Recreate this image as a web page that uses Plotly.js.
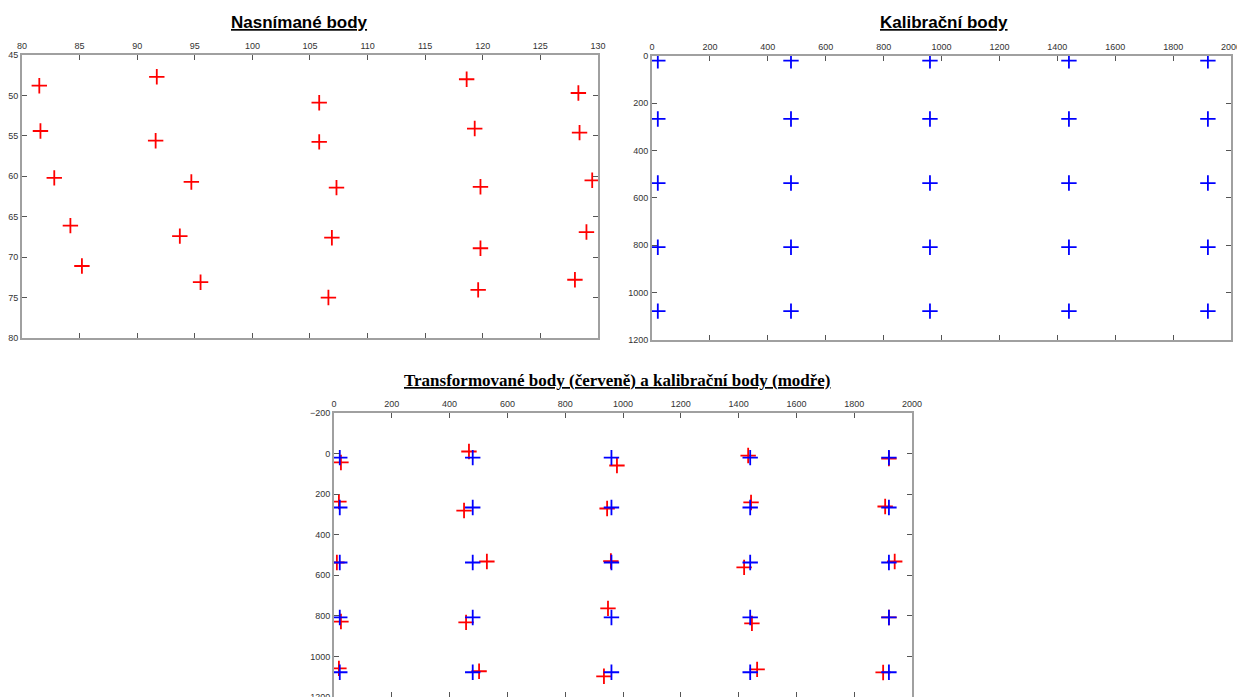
<!DOCTYPE html>
<html>
<head>
<meta charset="utf-8">
<script src="https://cdn.plot.ly/plotly-3.0.1.min.js"></script>
<style>html,body{margin:0;padding:0;background:#fff;}#chart{width:1237px;height:697px;}</style>
</head>
<body>
<div id="chart"></div>
<script>
// Nasnímané body (measured points)
const measuredX = [81.5, 81.6, 82.8, 84.2, 85.2, 91.7, 91.6, 94.7, 93.7, 95.5, 105.8, 105.8, 107.3, 106.9, 106.6, 118.6, 119.3, 119.8, 119.8, 119.6, 128.3, 128.4, 129.5, 129.0, 128.0];
const measuredY = [48.8, 54.4, 60.2, 66.1, 71.1, 47.7, 55.6, 60.7, 67.4, 73.1, 50.9, 55.75, 61.4, 67.6, 75.0, 48.0, 54.1, 61.3, 68.9, 74.05, 49.7, 54.6, 60.5, 66.9, 72.8];

// Kalibrační body (calibration points)
const calibCols = [20, 480, 960, 1440, 1920];
const calibRows = [20, 266, 537, 808, 1078];

// Transformované body (transformed points), row by row
const transX = [24, 467, 979, 1433, 1920,
                17, 450, 945, 1443, 1907,
                10, 529, 958, 1419, 1940,
                24, 457, 948, 1446, 1920,
                17, 502, 934, 1464, 1900];
const transY = [44, -10, 59, 10, 25,
                237, 281, 271, 241, 261,
                537, 532, 530, 561, 532,
                828, 832, 763, 837, 808,
                1059, 1073, 1098, 1064, 1079];

const calibX = [], calibY = [];
calibRows.forEach(r => calibCols.forEach(c => { calibX.push(c); calibY.push(r); }));

const redMarker = {symbol: 'cross-thin', size: 11, color: '#ff0000', line: {color: '#ff0000', width: 1.8}};
const blueMarker = {symbol: 'cross-thin', size: 11, color: '#0000ff', line: {color: '#0000ff', width: 1.8}};

const traces = [
  {x: measuredX, y: measuredY, mode: 'markers', type: 'scatter', marker: redMarker, xaxis: 'x', yaxis: 'y'},
  {x: calibX, y: calibY, mode: 'markers', type: 'scatter', marker: blueMarker, xaxis: 'x2', yaxis: 'y2'},
  {x: transX, y: transY, mode: 'markers', type: 'scatter', marker: redMarker, xaxis: 'x3', yaxis: 'y3'},
  {x: calibX, y: calibY, mode: 'markers', type: 'scatter', marker: blueMarker, xaxis: 'x3', yaxis: 'y3'}
];

const tickFont = {family: 'Liberation Sans, Arial, sans-serif', size: 9, color: '#333'};
function xax(domain, range, dtick, anchor) {
  return {domain: domain, range: range, dtick: dtick, tick0: 0, side: 'top', anchor: anchor,
    showgrid: false, zeroline: false, showline: true, linecolor: '#a0a0a0', linewidth: 2,
    mirror: 'ticks', ticks: 'inside', ticklen: 5, tickcolor: '#555', tickfont: tickFont,
    ticklabeloverflow: 'allow'};
}
function yax(domain, range, dtick, anchor) {
  return {domain: domain, range: range, dtick: dtick, anchor: anchor,
    showgrid: false, zeroline: false, showline: true, linecolor: '#a0a0a0', linewidth: 2,
    mirror: 'ticks', ticks: 'inside', ticklen: 5, tickcolor: '#555', tickfont: tickFont,
    ticklabeloverflow: 'allow'};
}

const layout = {
  width: 1237, height: 697,
  margin: {l: 0, r: 0, t: 0, b: 0},
  paper_bgcolor: '#fff', plot_bgcolor: '#fff',
  showlegend: false,
  xaxis: xax([0.0178, 0.4834], [80, 130], 5, 'y'),
  yaxis: yax([0.5151, 0.9211], [80, 45], 5, 'x'),
  xaxis2: xax([0.5271, 0.9952], [0, 2000], 200, 'y2'),
  yaxis2: yax([0.5122, 0.9197], [1200, 0], 200, 'x2'),
  xaxis3: xax([0.2700, 0.7373], [0, 2000], 200, 'y3'),
  yaxis3: yax([0.0, 0.4075], [1200, -200], 200, 'x3'),
  annotations: [
    {text: '<b><u>Nasnímané body</u></b>', xref: 'paper', yref: 'paper', x: 0.2425, y: 0.9684,
     showarrow: false, xanchor: 'center', yanchor: 'middle', font: {family: 'Liberation Sans, Arial, sans-serif', size: 17, color: '#000'}},
    {text: '<b><u>Kalibrační body</u></b>', xref: 'paper', yref: 'paper', x: 0.7631, y: 0.9684,
     showarrow: false, xanchor: 'center', yanchor: 'middle', font: {family: 'Liberation Sans, Arial, sans-serif', size: 17, color: '#000'}},
    {text: '<b><u>Transformované body (červeně) a kalibrační body (modře)</u></b>', xref: 'paper', yref: 'paper', x: 0.4988, y: 0.4534,
     showarrow: false, xanchor: 'center', yanchor: 'middle', font: {family: 'Liberation Serif, Times New Roman, serif', size: 17, color: '#000'}}
  ]
};

Plotly.newPlot('chart', traces, layout, {displayModeBar: false, staticPlot: true});
</script>
</body>
</html>
